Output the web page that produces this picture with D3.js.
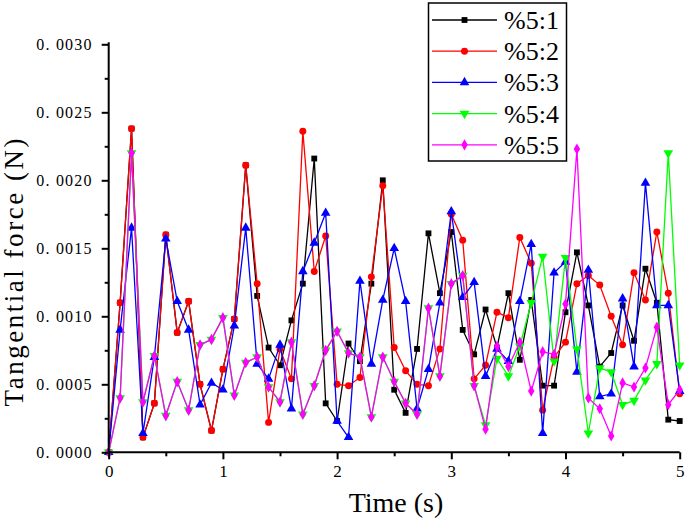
<!DOCTYPE html>
<html><head><meta charset="utf-8">
<script src="https://cdn.jsdelivr.net/npm/d3@7"></script>
<style>html,body{margin:0;padding:0;background:#fff;}svg{display:block;}</style>
</head><body>
<svg id="chart" width="685" height="520"></svg>
<script>
const times = [0,0.1,0.2,0.3,0.4,0.5,0.6,0.7,0.8,0.9,1.0,1.1,1.2,1.3,1.4,1.5,1.6,1.7,1.8,1.9,2.0,2.1,2.2,2.3,2.4,2.5,2.6,2.7,2.8,2.9,3.0,3.1,3.2,3.3,3.4,3.5,3.6,3.7,3.8,3.9,4.0,4.1,4.2,4.3,4.4,4.5,4.6,4.7,4.8,4.9,5.0];
const s1 = [0,0.00110,0.00238,0.00011,0.00036,0.00160,0.00088,0.00111,0.00050,0.00016,0.00061,0.00098,0.00211,0.00115,0.00077,0.00064,0.00097,0.00124,0.00216,0.00036,0.00023,0.00080,0.00067,0.00124,0.00200,0.00046,0.00029,0.00076,0.00161,0.00117,0.00162,0.00090,0.00072,0.00105,0.00077,0.00117,0.00068,0.00112,0.00049,0.00049,0.00103,0.00147,0.00108,0.00063,0.00073,0.00108,0.00082,0.00135,0.00110,0.00024,0.00023];
const s2 = [0,0.00110,0.00238,0.00011,0.00036,0.00160,0.00088,0.00111,0.00050,0.00016,0.00061,0.00098,0.00211,0.00124,0.00022,0.00076,0.00054,0.00236,0.00133,0.00159,0.00050,0.00049,0.00055,0.00129,0.00196,0.00077,0.00060,0.00050,0.00049,0.00076,0.00175,0.00156,0.00054,0.00064,0.00103,0.00099,0.00158,0.00139,0.00031,0.00070,0.00081,0.00124,0.00130,0.00123,0.00100,0.00079,0.00132,0.00112,0.00162,0.00117,0.00043];
const s3 = [0,0.00090,0.00165,0.00014,0.00070,0.00157,0.00111,0.00090,0.00035,0.00051,0.00046,0.00093,0.00165,0.00065,0.00054,0.00079,0.00032,0.00133,0.00154,0.00176,0.00023,0.00011,0.00126,0.00065,0.00112,0.00150,0.00111,0.00032,0.00061,0.00110,0.00177,0.00114,0.00125,0.00056,0.00076,0.00067,0.00111,0.00153,0.00014,0.00132,0.00140,0.00059,0.00134,0.00041,0.00043,0.00113,0.00063,0.00198,0.00108,0.00108,0.00045];
const s4 = [0,0.00040,0.00220,0.00037,0.00071,0.00027,0.00052,0.00031,0.00079,0.00083,0.00099,0.00042,0.00066,0.00070,0.00048,0.00037,0.00081,0.00028,0.00049,0.00075,0.00089,0.00073,0.00070,0.00026,0.00070,0.00052,0.00036,0.00028,0.00106,0.00056,0.00124,0.00130,0.00049,0.00020,0.00069,0.00056,0.00078,0.00110,0.00144,0.00067,0.00143,0.00076,0.00014,0.00062,0.00059,0.00035,0.00038,0.00053,0.00065,0.00220,0.00064];
const s5 = [0,0.00040,0.00220,0.00037,0.00071,0.00027,0.00052,0.00031,0.00079,0.00083,0.00099,0.00042,0.00066,0.00070,0.00048,0.00037,0.00081,0.00028,0.00049,0.00075,0.00089,0.00073,0.00070,0.00026,0.00070,0.00052,0.00036,0.00028,0.00106,0.00056,0.00124,0.00130,0.00049,0.00017,0.00078,0.00063,0.00081,0.00045,0.00074,0.00072,0.00109,0.00223,0.00040,0.00032,0.00012,0.00051,0.00048,0.00062,0.00092,0.00035,0.00046];
const seriesNames = ["%5:1","%5:2","%5:3","%5:4","%5:5"];
const seriesColors = ["#000000","#ff0000","#0000ff","#00ff00","#ff00ff"];
const xTicks = [0,1,2,3,4,5];
const yTicks = [0,0.0005,0.0010,0.0015,0.0020,0.0025,0.0030];
const yTickLabels = ["0. 0000","0. 0005","0. 0010","0. 0015","0. 0020","0. 0025","0. 0030"];

const allSeries = [s1,s2,s3,s4,s5];
const FONT = '"Liberation Serif"';
const svg = d3.select("#chart");
const L = 108.7, R = 679.7, T = 44.3, B = 452.3;
const x = d3.scaleLinear().domain([0,5]).range([L,R]);
const y = d3.scaleLinear().domain([0,0.003]).range([B,T]);

const symbols = [
  d3.symbol().type(d3.symbolSquare).size(34),
  d3.symbol().type(d3.symbolCircle).size(38),
  d3.symbol().type(d3.symbolTriangle).size(40),
  d3.symbol().type(d3.symbolTriangle).size(40),
  d3.symbol().type(d3.symbolDiamond).size(36)
];
const rot = [0,0,0,180,0];

const line = d3.line().x((d,i)=>x(times[i])).y(d=>y(d));
allSeries.forEach((s,k)=>{
  const g = svg.append("g");
  g.append("path").attr("d", line(s)).attr("fill","none")
    .attr("stroke", seriesColors[k]).attr("stroke-width",1.3);
  g.selectAll("path.m").data(s).enter().append("path").attr("class","m")
    .attr("d", symbols[k]())
    .attr("transform",(d,i)=>`translate(${x(times[i])},${y(d)}) rotate(${rot[k]})`)
    .attr("fill", seriesColors[k]);
});

// axes
const xAxis = d3.axisBottom(x).tickValues(xTicks).tickSize(7).tickPadding(6).tickFormat(d3.format("d"));
const gx = svg.append("g").attr("transform",`translate(0,${B})`).call(xAxis);
gx.select(".domain").attr("stroke-width",2).attr("d",`M${L},0H${R}`);
gx.selectAll(".tick line").attr("stroke-width",2);
gx.selectAll(".tick text").style("font-family",FONT).attr("font-size",17).attr("fill","#000");
const xMinor = d3.axisBottom(x).tickValues([0.5,1.5,2.5,3.5,4.5]).tickSize(4).tickFormat("");
const gxm = svg.append("g").attr("transform",`translate(0,${B})`).call(xMinor);
gxm.select(".domain").remove();
gxm.selectAll(".tick line").attr("stroke-width",2);

const yAxis = d3.axisLeft(y).tickValues(yTicks).tickSize(7).tickPadding(9).tickFormat((d,i)=>yTickLabels[i]);
const gy = svg.append("g").attr("transform",`translate(${L},0)`).call(yAxis);
gy.select(".domain").attr("stroke-width",2).attr("d",`M0,${B}V${T-2}`);
gy.selectAll(".tick line").attr("stroke-width",2);
gy.selectAll(".tick text").style("font-family",FONT).attr("font-size",16).attr("letter-spacing","1.2px").attr("fill","#000");
const yMinor = d3.axisLeft(y).tickValues([0.00025,0.00075,0.00125,0.00175,0.00225,0.00275]).tickSize(4).tickFormat("");
const gym = svg.append("g").attr("transform",`translate(${L},0)`).call(yMinor);
gym.select(".domain").remove();
gym.selectAll(".tick line").attr("stroke-width",2);

// titles
svg.append("text").attr("x",396).attr("y",512).attr("text-anchor","middle")
  .style("font-family",FONT).attr("font-size",28).text("Time (s)");
svg.append("text").attr("transform",`translate(23,${(138+407)/2}) rotate(-90)`).attr("text-anchor","middle")
  .style("font-family",FONT).attr("font-size",27)
  .attr("textLength",268).attr("lengthAdjust","spacing").text("Tangential force (N)");

// legend
const lg = svg.append("g");
lg.append("rect").attr("x",428.5).attr("y",3).attr("width",138).attr("height",158)
  .attr("fill","#fff").attr("stroke","#000").attr("stroke-width",1.5);
seriesNames.forEach((n,k)=>{
  const cy = 20 + k*31.2;
  lg.append("line").attr("x1",432).attr("x2",497).attr("y1",cy).attr("y2",cy)
    .attr("stroke",seriesColors[k]).attr("stroke-width",1.3);
  lg.append("path").attr("d",symbols[k]()).attr("transform",`translate(464.5,${cy}) rotate(${rot[k]})`)
    .attr("fill",seriesColors[k]);
  lg.append("text").attr("x",504).attr("y",cy+9).style("font-family",FONT).attr("font-size",26).text(n);
});
</script>
</body></html>
